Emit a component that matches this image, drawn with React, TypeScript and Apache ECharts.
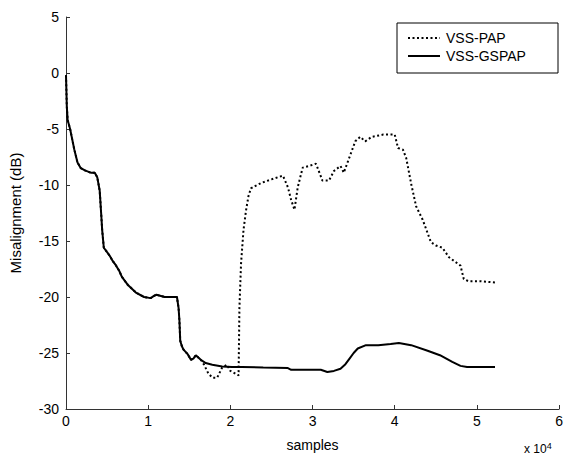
import React, { useEffect, useRef } from "react";
import * as echarts from "echarts";

// x in units of 10^4 samples
const gspapX = [0, 0.01, 0.02, 0.05, 0.1, 0.14, 0.18, 0.23, 0.3, 0.35, 0.38, 0.41, 0.43, 0.44, 0.46, 0.5, 0.53, 0.57, 0.61, 0.65, 0.68, 0.75, 0.85, 0.95, 1.03, 1.07, 1.1, 1.2, 1.35, 1.37, 1.38, 1.39, 1.41, 1.43, 1.48, 1.52, 1.55, 1.58, 1.61, 1.64, 1.7, 1.78, 1.9, 2.02, 2.14, 2.4, 2.7, 2.74, 2.9, 3.1, 3.18, 3.26, 3.34, 3.4, 3.45, 3.5, 3.55, 3.65, 3.8, 3.95, 4.05, 4.2, 4.4, 4.55, 4.7, 4.8, 4.88, 5.0, 5.22];
const gspapY = [-0.2, -3, -4.2, -5, -6.8, -8, -8.5, -8.7, -8.9, -8.9, -9.3, -10.5, -12.8, -14, -15.6, -16, -16.3, -16.8, -17.2, -17.7, -18.2, -18.9, -19.6, -20, -20.1, -19.9, -19.8, -20, -20, -21, -22.1, -23.9, -24.4, -24.7, -25.1, -25.6, -25.5, -25.2, -25.4, -25.6, -25.9, -26.05, -26.2, -26.25, -26.25, -26.3, -26.35, -26.5, -26.5, -26.5, -26.7, -26.6, -26.4, -26, -25.5, -25, -24.6, -24.3, -24.3, -24.2, -24.1, -24.3, -24.8, -25.2, -25.8, -26.15, -26.25, -26.25, -26.25];

const papX = [0, 0.01, 0.02, 0.05, 0.1, 0.14, 0.18, 0.23, 0.3, 0.35, 0.38, 0.41, 0.43, 0.44, 0.46, 0.5, 0.53, 0.57, 0.61, 0.65, 0.68, 0.75, 0.85, 0.95, 1.03, 1.07, 1.1, 1.2, 1.35, 1.37, 1.38, 1.39, 1.41, 1.43, 1.48, 1.52, 1.55, 1.58, 1.61, 1.64, 1.68, 1.73, 1.78, 1.84, 1.9, 1.96, 2.0, 2.05, 2.1, 2.11, 2.13, 2.16, 2.19, 2.22, 2.25, 2.3, 2.38, 2.5, 2.58, 2.64, 2.7, 2.74, 2.78, 2.82, 2.88, 2.96, 3.04, 3.06, 3.12, 3.2, 3.26, 3.34, 3.38, 3.44, 3.52, 3.58, 3.64, 3.72, 3.86, 4.0, 4.04, 4.1, 4.14, 4.2, 4.26, 4.34, 4.44, 4.5, 4.58, 4.66, 4.8, 4.84, 4.9, 5.05, 5.22];
const papY = [-0.2, -3, -4.2, -5, -6.8, -8, -8.5, -8.7, -8.9, -8.9, -9.3, -10.5, -12.8, -14, -15.6, -16, -16.3, -16.8, -17.2, -17.7, -18.2, -18.9, -19.6, -20, -20.1, -19.9, -19.8, -20, -20, -21, -22.1, -23.9, -24.4, -24.7, -25.1, -25.6, -25.5, -25.2, -25.4, -25.6, -26.05, -26.8, -27.2, -27.2, -26.3, -26.05, -26.6, -26.8, -27.0, -21, -17, -14, -12.3, -11, -10.3, -10.1, -9.8, -9.5, -9.3, -9.17, -10.2, -11.35, -12.2, -10.2, -8.45, -8.3, -8.1, -8.45, -9.6, -9.6, -8.75, -8.3, -8.9, -7.7, -6.1, -5.7, -6.1, -5.7, -5.5, -5.5, -6.7, -6.85, -7.6, -9.9, -11.9, -13.1, -15.1, -15.4, -15.6, -16.45, -17.2, -18.4, -18.6, -18.6, -18.7];

const xTicks = [0, 1, 2, 3, 4, 5, 6];
const yTicks = [-30, -25, -20, -15, -10, -5, 0, 5];
const seriesNames = ["VSS-PAP", "VSS-GSPAP"];

const FONT = "'Liberation Sans', Arial, sans-serif";
const AXIS = "#333";
const DOT: number[] = [2, 2.5];

export default function App() {
  const ref = useRef<HTMLDivElement>(null);
  useEffect(() => {
    document.body.style.margin = "0";
    const chart = echarts.init(ref.current!, undefined, { renderer: "svg" });
    const pap = papX.map((x, i) => [x, papY[i]]);
    const gspap = gspapX.map((x, i) => [x, gspapY[i]]);
    const lgX = 397, lgY = 23, lgW = 161, lgH = 50;
    const row1 = 38, row2 = 56;
    chart.setOption({
      animation: false,
      backgroundColor: "#fff",
      grid: { left: 61, right: 3, top: 17, bottom: 40, containLabel: false },
      textStyle: { fontFamily: FONT },
      xAxis: {
        type: "value",
        min: xTicks[0],
        max: xTicks[xTicks.length - 1],
        interval: 1,
        name: "samples",
        nameLocation: "middle",
        nameGap: 29,
        nameTextStyle: { fontFamily: FONT, fontSize: 14, color: "#000" },
        axisLine: { onZero: false, lineStyle: { color: AXIS, width: 1 } },
        axisTick: { inside: true, length: 4, lineStyle: { color: AXIS } },
        axisLabel: { fontFamily: FONT, fontSize: 14, color: "#000", margin: 5 },
        splitLine: { show: false },
      },
      yAxis: {
        type: "value",
        min: yTicks[0],
        max: yTicks[yTicks.length - 1],
        interval: 5,
        name: "Misalignment (dB)",
        nameLocation: "middle",
        nameGap: 43,
        nameTextStyle: { fontFamily: FONT, fontSize: 15, color: "#000" },
        axisLine: { show: true, onZero: false, lineStyle: { color: AXIS, width: 1 } },
        axisTick: { show: true, inside: true, length: 4, lineStyle: { color: AXIS } },
        axisLabel: { fontFamily: FONT, fontSize: 14, color: "#000", margin: 7 },
        splitLine: { show: false },
      },
      graphic: [
        {
          type: "text",
          left: 524,
          top: 441,
          style: {
            text: "x 10{s|4}",
            fontFamily: FONT,
            fontSize: 12,
            fill: "#000",
            rich: { s: { fontSize: 9, verticalAlign: "top", padding: [0, 0, 7, 0], fontFamily: FONT } },
          },
        },
        {
          type: "rect",
          shape: { x: lgX, y: lgY, width: lgW, height: lgH },
          style: { fill: "#fff", stroke: "#000", lineWidth: 1 },
          z: 10,
        },
        {
          type: "line",
          shape: { x1: 408, y1: row1, x2: 440, y2: row1 },
          style: { stroke: "#000", lineWidth: 2, lineDash: DOT },
          z: 11,
        },
        {
          type: "line",
          shape: { x1: 408, y1: row2, x2: 440, y2: row2 },
          style: { stroke: "#000", lineWidth: 2 },
          z: 11,
        },
        {
          type: "text",
          x: 446,
          y: row1,
          style: { text: seriesNames[0], fontFamily: FONT, fontSize: 14, fill: "#000", verticalAlign: "middle" },
          z: 11,
        },
        {
          type: "text",
          x: 446,
          y: row2,
          style: { text: seriesNames[1], fontFamily: FONT, fontSize: 14, fill: "#000", verticalAlign: "middle" },
          z: 11,
        },
      ],
      series: [
        {
          name: seriesNames[0],
          type: "line",
          data: pap,
          symbol: "none",
          z: 2,
          lineStyle: { color: "#000", width: 2, type: DOT },
        },
        {
          name: seriesNames[1],
          type: "line",
          data: gspap,
          symbol: "none",
          z: 3,
          lineStyle: { color: "#000", width: 2, type: "solid" },
        },
      ],
    });
    return () => chart.dispose();
  }, []);
  return <div ref={ref} style={{ position: "absolute", left: 0, top: 0, width: 566, height: 457 }} />;
}
